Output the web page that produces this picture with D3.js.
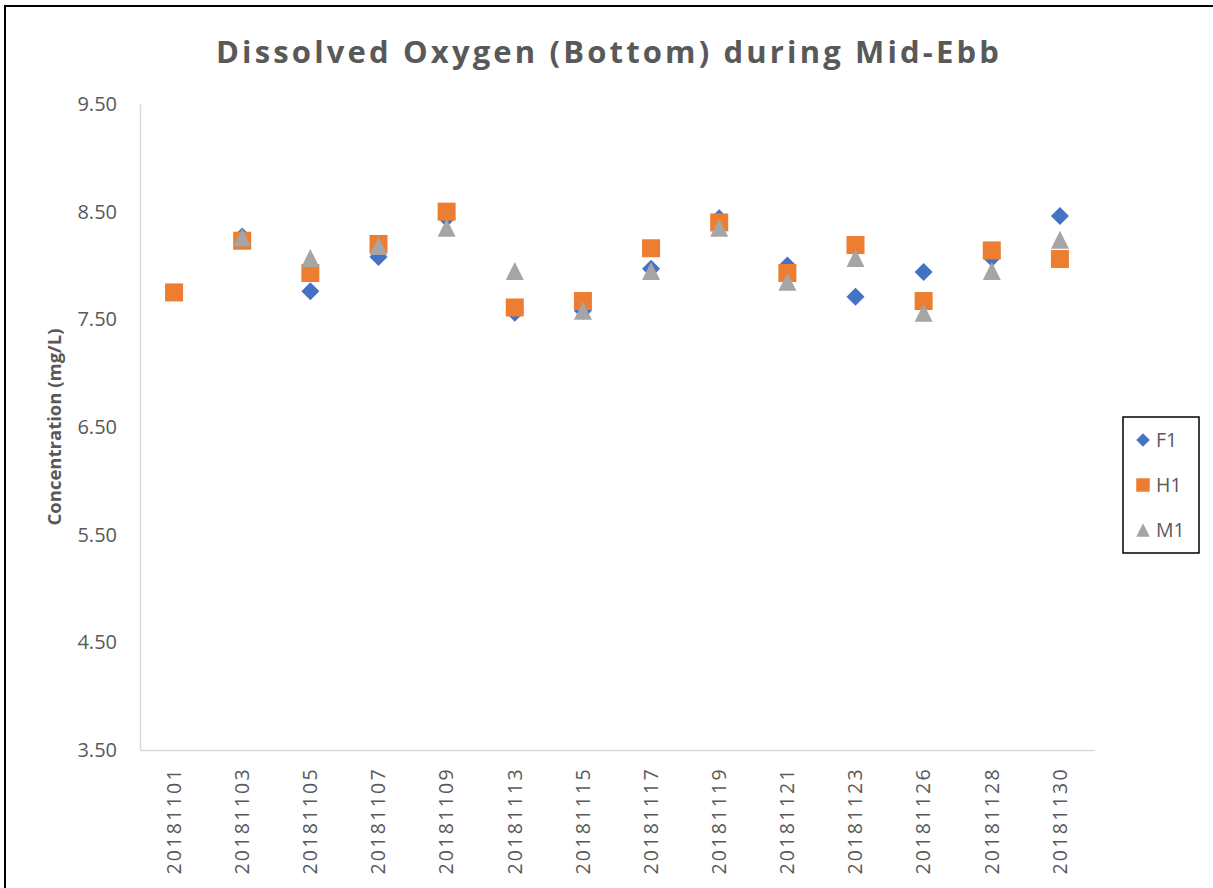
<!DOCTYPE html>
<html>
<head>
<meta charset="utf-8">
<script src="https://cdn.jsdelivr.net/npm/d3@7"></script>
<style>
  body { margin: 0; background: #fff; }
  svg { display: block; }
</style>
</head>
<body>
<div id="chart"></div>
<script>
// sampling dates (x categories)
var Dates = ["20181101", "20181103", "20181105", "20181107", "20181109", "20181113", "20181115",
             "20181117", "20181119", "20181121", "20181123", "20181126", "20181128", "20181130"];

// bottom DO, mg/L, per station
var F1 = [null, 8.27, 7.76, 8.08, 8.44, 7.56, 7.58, 7.97, 8.44, 8.00, 7.71, 7.94, 8.07, 8.46];
var H1 = [7.75, 8.23, 7.93, 8.20, 8.50, 7.61, 7.67, 8.16, 8.40, 7.93, 8.19, 7.67, 8.14, 8.06];
var M1 = [null, 8.26, 8.07, 8.18, 8.35, 7.95, 7.58, 7.95, 8.35, 7.85, 8.07, 7.56, 7.95, 8.24];

var YTicks = [3.5, 4.5, 5.5, 6.5, 7.5, 8.5, 9.5];

var Series = [
    { name: "F1", values: F1, color: "#4472C4", shape: "diamond" },
    { name: "H1", values: H1, color: "#ED7D31", shape: "square" },
    { name: "M1", values: M1, color: "#A5A5A5", shape: "triangle" }
];

var Width = 1213, Height = 888;
var Left = 140, Right = 1094, Top = 104, Bottom = 750;
var TextGray = "#595959";

var svg = d3.select("#chart").append("svg")
    .attr("width", Width)
    .attr("height", Height);

// chart frame (only top and left edges show in the picture)
svg.append("rect")
    .attr("x", 5).attr("y", 6)
    .attr("width", Width + 20).attr("height", Height + 20)
    .attr("fill", "#fff")
    .attr("stroke", "#000")
    .attr("stroke-width", 2);

var x = d3.scaleBand().domain(Dates).range([Left, Right]);
var y = d3.scaleLinear().domain([3.5, 9.5]).range([Bottom, Top]);

// title
svg.append("text")
    .attr("x", 609).attr("y", 63)
    .attr("text-anchor", "middle")
    .attr("font-family", "'Open Sans', sans-serif")
    .attr("font-weight", "bold")
    .attr("font-size", 31)
    .attr("letter-spacing", 3.15)
    .attr("fill", TextGray)
    .text("Dissolved Oxygen (Bottom) during Mid-Ebb");

// y axis
var yAxis = svg.append("g")
    .attr("transform", "translate(" + Left + ",0)")
    .call(d3.axisLeft(y).tickValues(YTicks).tickFormat(d3.format(".2f")).tickSize(0).tickPadding(23));
yAxis.select(".domain").attr("stroke", "#d9d9d9").attr("stroke-width", 1.5);
yAxis.selectAll("text")
    .attr("font-family", "'Open Sans', sans-serif")
    .attr("font-size", 20)
    .attr("fill", TextGray);

// x axis
var xAxis = svg.append("g")
    .attr("transform", "translate(0," + Bottom + ")")
    .call(d3.axisBottom(x).tickSize(0).tickPadding(0));
xAxis.select(".domain").attr("stroke", "#d9d9d9").attr("stroke-width", 1.5);
xAxis.selectAll("text")
    .attr("font-family", "'Open Sans', sans-serif")
    .attr("font-size", 19.5)
    .attr("letter-spacing", 2.3)
    .attr("fill", TextGray)
    .attr("text-anchor", "end")
    .attr("dy", "0.35em")
    .attr("transform", "translate(0,17) rotate(-90)")
    .attr("x", 0).attr("y", 0);

// y axis title
svg.append("text")
    .attr("transform", "translate(61,427) rotate(-90)")
    .attr("text-anchor", "middle")
    .attr("font-family", "'Open Sans', sans-serif")
    .attr("font-weight", "bold")
    .attr("font-size", 18.5)
    .attr("fill", TextGray)
    .text("Concentration (mg/L)");

function markerPath(shape) {
    if (shape === "diamond") return "M0,-9L9,0L0,9L-9,0Z";
    if (shape === "square") return "M-9,-9H9V9H-9Z";
    return "M0,-9L9,9H-9Z";
}

Series.forEach(function (s) {
    svg.append("g")
        .selectAll("path")
        .data(s.values.map(function (v, i) { return { date: Dates[i], value: v }; })
            .filter(function (d) { return d.value !== null; }))
        .enter()
        .append("path")
        .attr("transform", function (d) {
            return "translate(" + (x(d.date) + x.bandwidth() / 2) + "," + y(d.value) + ")";
        })
        .attr("d", markerPath(s.shape))
        .attr("fill", s.color);
});

// legend
var legend = svg.append("g");
legend.append("rect")
    .attr("x", 1123).attr("y", 417)
    .attr("width", 76).attr("height", 136)
    .attr("fill", "#fff")
    .attr("stroke", "#000")
    .attr("stroke-width", 1.5);

Series.forEach(function (s, i) {
    var ly = 440 + i * 45;
    legend.append("path")
        .attr("transform", "translate(1143," + ly + ") scale(0.75)")
        .attr("d", markerPath(s.shape))
        .attr("fill", s.color);
    legend.append("text")
        .attr("x", 1156).attr("y", ly)
        .attr("dy", "0.35em")
        .attr("font-family", "'Open Sans', sans-serif")
        .attr("font-size", 19.5)
        .attr("fill", TextGray)
        .text(s.name);
});
</script>
</body>
</html>
